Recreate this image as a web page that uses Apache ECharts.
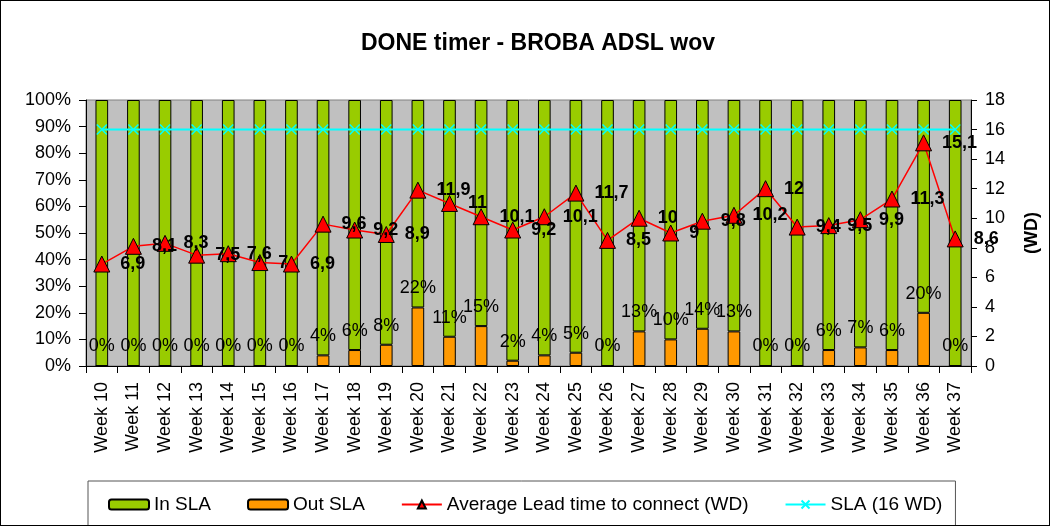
<!DOCTYPE html>
<html>
<head>
<meta charset="utf-8">
<script src="https://cdn.jsdelivr.net/npm/echarts@6/dist/echarts.min.js"></script>
<style>
html, body { margin: 0; padding: 0; background: #fff; }
#chart { width: 1050px; height: 526px; box-sizing: border-box; border: 1px solid #000; }
</style>
</head>
<body>
<div id="chart"></div>
<script>
var weeks = ['Week 10','Week 11','Week 12','Week 13','Week 14','Week 15','Week 16','Week 17','Week 18','Week 19',
	'Week 20','Week 21','Week 22','Week 23','Week 24','Week 25','Week 26','Week 27','Week 28','Week 29',
	'Week 30','Week 31','Week 32','Week 33','Week 34','Week 35','Week 36','Week 37'];
var outSla = [0,0,0,0,0,0,0,4,6,8,22,11,15,2,4,5,0,13,10,14,13,0,0,6,7,6,20,0];
var inSla = [100,100,100,100,100,100,100,96,94,92,78,89,85,98,96,95,100,87,90,86,87,100,100,94,93,94,80,100];
var leadTime = [6.9,8.1,8.3,7.5,7.6,7,6.9,9.6,9.2,8.9,11.9,11,10.1,9.2,10.1,11.7,8.5,10,9,9.8,10.2,12,9.4,9.5,9.9,11.3,15.1,8.6];
var slaLine = [16,16,16,16,16,16,16,16,16,16,16,16,16,16,16,16,16,16,16,16,16,16,16,16,16,16,16,16];

var font = 'Liberation Sans, Arial, sans-serif';
var myChart = echarts.init(document.getElementById('chart'));
var option = {
	animation: false,
	textStyle: { fontFamily: font },
	title: {
		text: 'DONE timer - BROBA ADSL wov',
		left: 355,
		top: 26,
		textStyle: { fontFamily: font, fontSize: 23, fontWeight: 'bold', color: '#000' }
	},
	legend: {
		data: ['In SLA', 'Out SLA', 'Average Lead time to connect (WD)', 'SLA (16 WD)'],
		left: 87,
		top: 480,
		padding: [14, 13, 30, 20],
		itemGap: 36,
		itemWidth: 40,
		itemHeight: 10,
		borderColor: '#555',
		borderWidth: 1,
		textStyle: { fontFamily: font, fontSize: 19, color: '#000' }
	},
	grid: {
		left: 85,
		right: 69,
		top: 99,
		bottom: 159,
		show: true,
		backgroundColor: '#C0C0C0',
		borderColor: '#808080',
		borderWidth: 1
	},
	xAxis: {
		type: 'category',
		data: weeks,
		axisLine: { lineStyle: { color: '#000' } },
		axisTick: { show: true, length: 7, lineStyle: { color: '#000' } },
		axisLabel: { rotate: 90, margin: 16, fontSize: 18, color: '#000', fontFamily: font, interval: 0 }
	},
	yAxis: [{
		type: 'value',
		min: 0,
		max: 100,
		interval: 10,
		splitLine: { show: false },
		axisLine: { show: true, lineStyle: { color: '#000' } },
		axisTick: { show: true, length: 7, lineStyle: { color: '#000' } },
		axisLabel: { formatter: '{value}%', fontSize: 18, color: '#000', fontFamily: font, margin: 15 }
	}, {
		type: 'value',
		min: 0,
		max: 18,
		interval: 2,
		name: '(WD)',
		nameLocation: 'middle',
		nameRotate: 90,
		nameGap: 52,
		nameTextStyle: { fontSize: 18, fontWeight: 'bold', color: '#000', fontFamily: font },
		splitLine: { show: false },
		axisLine: { show: true, lineStyle: { color: '#000' } },
		axisTick: { show: true, length: 6, lineStyle: { color: '#000' } },
		axisLabel: { fontSize: 18, color: '#000', fontFamily: font, margin: 14 }
	}],
	series: [{
		name: 'Out SLA',
		type: 'bar',
		stack: 'sla',
		barWidth: '40%',
		data: outSla,
		itemStyle: { color: '#FF9900', borderColor: '#000', borderWidth: 1 },
		label: {
			show: true,
			position: 'top',
			distance: 10,
			formatter: '{c}%',
			fontSize: 18,
			color: '#000',
			fontFamily: font
		},
		z: 3
	}, {
		name: 'In SLA',
		type: 'bar',
		stack: 'sla',
		barWidth: '40%',
		data: inSla,
		itemStyle: { color: '#99CC00', borderColor: '#000', borderWidth: 1 },
		z: 2
	}, {
		name: 'Average Lead time to connect (WD)',
		type: 'line',
		yAxisIndex: 1,
		data: leadTime,
		symbol: 'triangle',
		symbolSize: 16,
		lineStyle: { color: '#FF0000', width: 1.5 },
		itemStyle: { color: '#FF0000', borderColor: '#000', borderWidth: 1 },
		label: {
			show: true,
			position: 'right',
			distance: 10,
			fontSize: 18,
			fontWeight: 'bold',
			color: '#000',
			fontFamily: font,
			formatter: function (p) {
				return String(p.value).replace('.', ',');
			}
		},
		z: 5
	}, {
		name: 'SLA (16 WD)',
		type: 'line',
		yAxisIndex: 1,
		data: slaLine,
		symbol: 'path://M0,0L10,10M10,0L0,10',
		symbolSize: 10,
		lineStyle: { color: '#00FFFF', width: 2 },
		itemStyle: { color: 'none', borderColor: '#00FFFF', borderWidth: 1.5 },
		z: 4
	}]
};
myChart.setOption(option);
</script>
</body>
</html>
